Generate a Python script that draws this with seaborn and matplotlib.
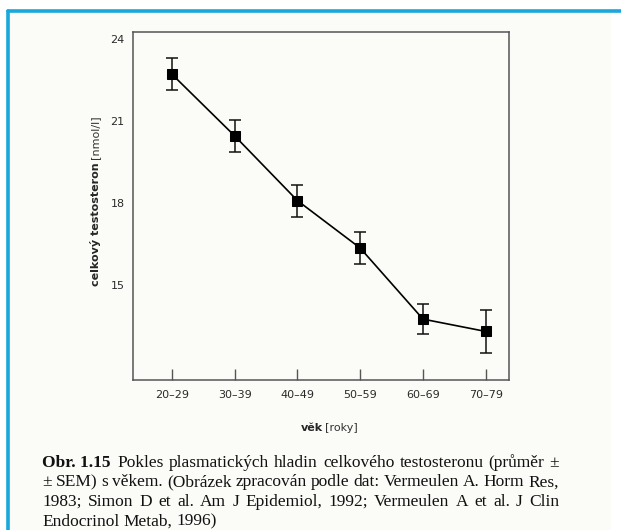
import numpy as np
import pandas as pd
import matplotlib
matplotlib.use("Agg")
import matplotlib.pyplot as plt
import seaborn as sns
from matplotlib.patches import Rectangle
from matplotlib.lines import Line2D

# data (mean +/- SEM, nmol/l)
age_groups = ["20–29", "30–39", "40–49", "50–59", "60–69", "70–79"]
testosterone = [22.70, 20.45, 18.09, 16.36, 13.77, 13.32]
sem = [0.58, 0.58, 0.58, 0.58, 0.56, 0.77]
y_ticks = [15, 18, 21, 24]

caption_bold = "Obr. 1.15"
caption_lines = [
    "Pokles plasmatických hladin celkového testosteronu (průměr ±",
    "± SEM) s věkem. (Obrázek zpracován podle dat: Vermeulen A. Horm Res,",
    "1983; Simon D et al. Am J Epidemiol, 1992; Vermeulen A et al. J Clin",
    "Endocrinol Metab, 1996)",
]

df = pd.DataFrame({"vek": age_groups, "testosteron": testosterone, "sem": sem})
df["pos"] = np.arange(len(df))

sns.set_style("white")
plt.rcParams["font.family"] = ["DejaVu Sans"]

W, H = 621, 530
fig = plt.figure(figsize=(W / 100, H / 100), dpi=100)
fig.patch.set_facecolor("white")

panel_col = "#fbfbf8"
blue = "#18a8dc"
# page panel with blue frame (top and left visible)
fig.patches.append(Rectangle((9 / W, 0), (611 - 9) / W, 1 - 12 / H,
                             transform=fig.transFigure, facecolor=panel_col,
                             edgecolor="none", zorder=-5))
fig.lines.append(Line2D([7.5 / W, 1], [1 - 10.5 / H, 1 - 10.5 / H], transform=fig.transFigure,
                        color=blue, lw=2.6, zorder=-4))
fig.lines.append(Line2D([7.5 / W, 7.5 / W], [0, 1 - 10.5 / H], transform=fig.transFigure,
                        color=blue, lw=2.6, zorder=-4))

ax = fig.add_axes([133 / W, 1 - 380 / H, (509 - 133) / W, (380 - 31.7) / H])
ax.set_facecolor(panel_col)

sns.lineplot(data=df, x="pos", y="testosteron", color="black", lw=1.2,
             marker="s", markersize=7, markeredgecolor="black", ax=ax, zorder=3)
ax.errorbar(df["pos"], df["testosteron"], yerr=df["sem"], fmt="none",
            ecolor="#111111", elinewidth=1.1, capsize=4.5, capthick=1.1, zorder=2)

ax.set_xlim(-0.62, 5.37)
ax.set_ylim(11.55, 24.25)
ax.set_xticks(df["pos"])
ax.set_xticklabels(age_groups, fontsize=8, color="#2a2a2a")
ax.set_yticks(y_ticks)
ax.set_yticklabels([str(t) for t in y_ticks], fontsize=8, color="#2a2a2a")
ax.tick_params(axis="x", bottom=True, direction="in", length=8, width=1.0,
               color="#555555", pad=7)
ax.tick_params(axis="y", left=False, length=0, pad=6)
ax.set_xlabel("")
ax.set_ylabel("")
for s in ax.spines.values():
    s.set_visible(True)
    s.set_color("#555555")
    s.set_linewidth(1.1)

# axis labels: bold part + normal part
fig.text(323 / W, 1 - 428 / H, "věk", fontsize=8, fontweight="bold", ha="right", va="center")
fig.text(325 / W, 1 - 428 / H, "[roky]", fontsize=8, ha="left", va="center", color="#333333")
fig.text(95 / W, 1 - 162 / H, "celkový testosteron", fontsize=8, fontweight="bold",
         rotation=90, ha="center", va="top")
fig.text(95 / W, 1 - 159 / H, "[nmol/l]", fontsize=8, rotation=90, ha="center",
         va="bottom", color="#333333")

# caption, justified like the printed page
serif = ["Liberation Serif", "DejaVu Serif"]
cap_size = 12.5
x_left = 42
x_right = 559
y_base = 467
line_gap = 19.5
renderer = fig.canvas.get_renderer()
space = 0.25 * cap_size * 100 / 72


def put_words(words, x_start, y_px, justify):
    texts = [fig.text(0, 1 - y_px / H, w, fontsize=cap_size, family=serif,
                      ha="left", va="baseline", color="#111111") for w in words]
    widths = [tx.get_window_extent(renderer).width for tx in texts]
    if justify and len(words) > 1:
        gap = (x_right - x_start - sum(widths)) / (len(words) - 1)
    else:
        gap = space
    x = x_start
    for tx, w in zip(texts, widths):
        tx.set_x(x / W)
        x += w + gap


bold = fig.text(x_left / W, 1 - y_base / H, caption_bold, fontsize=cap_size,
                fontweight="bold", family=serif, ha="left", va="baseline", color="#111111")
bb = bold.get_window_extent(renderer)
put_words(caption_lines[0].split(" "), bb.x1 + 7, y_base, True)
for i, line in enumerate(caption_lines[1:], start=1):
    put_words(line.split(" "), x_left, y_base + i * line_gap, i < len(caption_lines) - 1)

fig.savefig("out.png", dpi=100, facecolor=fig.get_facecolor())
